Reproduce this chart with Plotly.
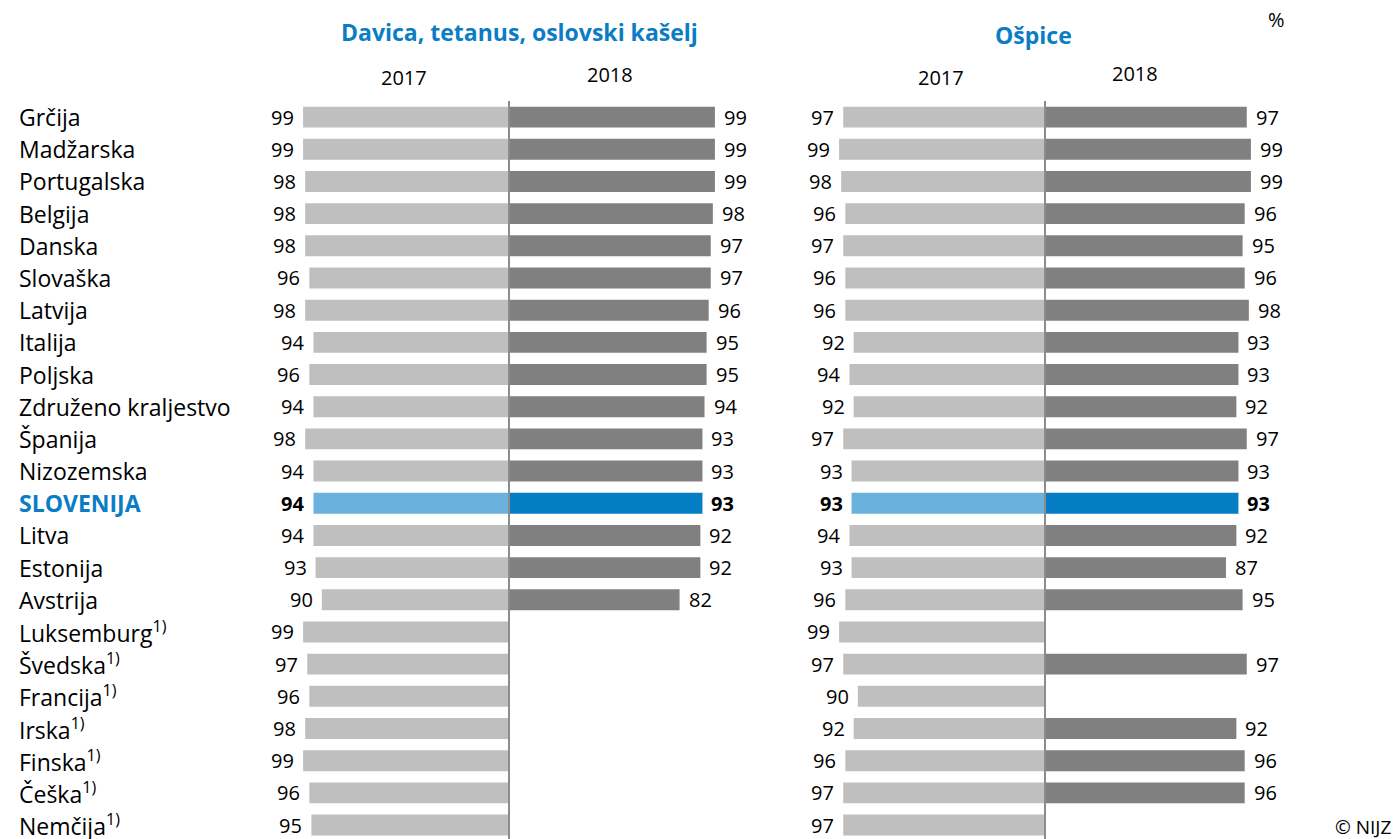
import plotly.graph_objects as go

countries = ["Grčija", "Madžarska", "Portugalska", "Belgija", "Danska", "Slovaška", "Latvija",
             "Italija", "Poljska", "Združeno kraljestvo", "Španija", "Nizozemska", "SLOVENIJA",
             "Litva", "Estonija", "Avstrija", "Luksemburg", "Švedska", "Francija", "Irska",
             "Finska", "Češka", "Nemčija"]
footnote = [False] * 16 + [True] * 7

dtp_2017 = [99, 99, 98, 98, 98, 96, 98, 94, 96, 94, 98, 94, 94, 94, 93, 90, 99, 97, 96, 98, 99, 96, 95]
dtp_2018 = [99, 99, 99, 98, 97, 97, 96, 95, 95, 94, 93, 93, 93, 92, 92, 82,
            None, None, None, None, None, None, None]
mea_2017 = [97, 99, 98, 96, 97, 96, 96, 92, 94, 92, 97, 93, 93, 94, 93, 96, 99, 97, 90, 92, 96, 97, 97]
mea_2018 = [97, 99, 99, 96, 95, 96, 98, 93, 93, 92, 97, 93, 93, 92, 87, 95,
            None, 97, None, 92, 96, 96, None]

panel_titles = ["Davica, tetanus, oslovski kašelj", "Ošpice"]
years = ["2017", "2018"]

HIGHLIGHT = "SLOVENIJA"
C17, C18 = "#BFBFBF", "#808080"
H17, H18 = "#6AB1DD", "#057DC5"
BLUE = "#0A7DC5"
FONT = "Open Sans"
W, H = 1393, 839
TOP = 101
PLOT_H = H - TOP

rows = list(range(len(countries)))
fig = go.Figure()

panels = [(dtp_2017, dtp_2018, "x", "y"), (mea_2017, mea_2018, "x2", "y2")]
for v17, v18, xa, ya in panels:
    col17 = [H17 if c == HIGHLIGHT else C17 for c in countries]
    col18 = [H18 if c == HIGHLIGHT else C18 for c in countries]
    fig.add_trace(go.Bar(y=rows, x=[-v if v is not None else None for v in v17], orientation="h",
                         marker=dict(color=col17, line=dict(width=0)), width=0.65,
                         xaxis=xa, yaxis=ya, showlegend=False, hoverinfo="skip"))
    fig.add_trace(go.Bar(y=rows, x=v18, orientation="h",
                         marker=dict(color=col18, line=dict(width=0)), width=0.65,
                         xaxis=xa, yaxis=ya, showlegend=False, hoverinfo="skip"))
    for i, c in enumerate(countries):
        bold = c == HIGHLIGHT
        for v, sign in ((v17[i], -1), (v18[i], 1)):
            if v is None:
                continue
            txt = f"<b>{v}</b>" if bold else str(v)
            fig.add_annotation(x=sign * v, y=i, xref=xa, yref=ya, text=txt, showarrow=False,
                               xanchor="right" if sign < 0 else "left",
                               xshift=-7 if sign < 0 else 7,
                               font=dict(family=FONT, size=20, color="#000000"))
    fig.add_shape(type="line", xref=xa, yref="paper", x0=0, x1=0, y0=0, y1=1,
                  line=dict(color="#8C8C8C", width=2), layer="above")

for i, c in enumerate(countries):
    if c == HIGHLIGHT:
        txt = f"<b>{c}</b>"
        col = BLUE
    else:
        txt = c + ("<sup>1)</sup>" if footnote[i] else "")
        col = "#000000"
    fig.add_annotation(x=17 / W, y=i, xref="paper", yref="y", text=txt, showarrow=False,
                       xanchor="left", yanchor="middle", font=dict(family=FONT, size=23, color=col))

def px(xp):
    return xp / W

def py(yp):
    return 1 - (yp - TOP) / PLOT_H

head = [(panel_titles[0], 519, 32), (panel_titles[1], 1033, 35)]
for t, xp, yp in head:
    fig.add_annotation(x=px(xp), y=py(yp), xref="paper", yref="paper", text=f"<b>{t}</b>",
                       showarrow=False, xanchor="center", yanchor="middle",
                       font=dict(family=FONT, size=23, color=BLUE))
for (xp, yp, t) in [(404, 77, years[0]), (610, 75, years[1]), (941, 77, years[0]), (1135, 74, years[1])]:
    fig.add_annotation(x=px(xp), y=py(yp), xref="paper", yref="paper", text=t, showarrow=False,
                       xanchor="center", yanchor="middle", font=dict(family=FONT, size=20, color="#000"))
fig.add_annotation(x=px(1276), y=py(20), xref="paper", yref="paper", text="%", showarrow=False,
                   xanchor="center", yanchor="middle", font=dict(family=FONT, size=20, color="#000"))
fig.add_annotation(x=1, y=py(827), xref="paper", yref="paper", text="© NIJZ", showarrow=False,
                   xanchor="right", yanchor="middle", font=dict(family=FONT, size=19, color="#000"))

scale = 2.08
row_h = 32.18
y_end = PLOT_H / row_h - 0.5

def dom(center):
    return [(center - 100 * scale) / W, (center + 100 * scale) / W]

axis_common = dict(range=[-100, 100], showgrid=False, zeroline=False, showticklabels=False,
                   ticks="", showline=False, fixedrange=True)
yaxis_common = dict(range=[y_end, -0.5], showgrid=False, zeroline=False, showticklabels=False,
                    ticks="", showline=False, fixedrange=True, domain=[0, 1])

fig.update_layout(
    width=W, height=H,
    margin=dict(l=0, r=0, t=TOP, b=0),
    paper_bgcolor="white", plot_bgcolor="rgba(0,0,0,0)",
    barmode="relative",
    xaxis=dict(domain=dom(509), **axis_common),
    xaxis2=dict(domain=dom(1045), anchor="y2", **axis_common),
    yaxis=dict(anchor="x", **yaxis_common),
    yaxis2=dict(anchor="x2", **yaxis_common),
    font=dict(family=FONT),
)

fig.write_html("out.html", config={"displayModeBar": False},
               post_script="document.body.style.margin='0';document.body.style.overflow='hidden';")
